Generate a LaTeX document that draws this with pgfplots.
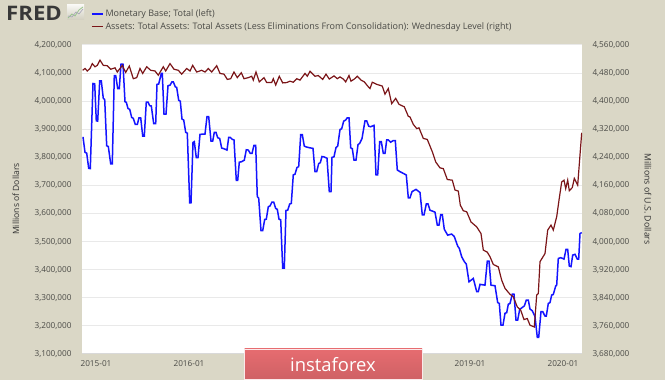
\documentclass[border=0pt]{standalone}
\usepackage{fontspec}
\setmainfont{Open Sans}
\usepackage{pgfplots}
\pgfplotsset{compat=1.18}
\usepackage{pgfplotstable}
\definecolor{bgc}{HTML}{DAD7C6}
\definecolor{blueline}{HTML}{1414FF}
\definecolor{redline}{HTML}{7B1518}
\definecolor{tickc}{HTML}{4A4A46}
\definecolor{gridc}{HTML}{E9E9E9}
\definecolor{bannerc}{HTML}{E66C70}
\pgfplotstableread{
x y
83 3873000
85 3818000
86.7 3815000
88.7 3761000
90.3 3760000
93 4063000
94.7 4062000
96.3 3930000
97.7 3929000
99.7 4072000
101.3 4072000
103.3 4010000
104.7 4006000
106.7 3841000
108.3 3839000
110.7 3777000
112.3 3777000
114.3 4091000
115.7 4091000
117.7 4045000
119.3 4045000
121 4132000
123 4132000
125 3998000
126.3 3996000
128 3974000
129.7 3971000
131.7 3942000
133.3 3939000
135.3 3917000
137.3 3917000
139 3941000
140.7 3941000
142.7 3876000
144.3 3876000
146.3 3997000
148 3997000
149.7 3984000
151.3 3983000
153.7 3920000
155.7 3920000
157 4060000
158.7 4061000
161.3 4099000
162.3 4099000
164 3954000
166 3954000
168 4055000
170 4057000
172 4069000
173.3 4069000
175.3 4051000
176.7 4049000
178.7 4003000
180.3 4000000
182 3936000
183.7 3933000
185.7 3889000
187.3 3886000
189.7 3638000
191 3638000
193 3853000
194.3 3856000
196.3 3799000
198 3799000
200 3882000
205 3883000
207 3945000
208.7 3945000
211 3858000
212.7 3858000
214.3 3889000
216 3889000
217.7 3870000
219.7 3867000
221.7 3833000
223.7 3831000
227 3826000
228.7 3871000
230.3 3871000
232.3 3864000
234 3862000
236.3 3718000
237.7 3718000
239.3 3783000
241.3 3784000
244.3 3790000
246.3 3827000
248.3 3826000
250.3 3814000
252 3814000
254 3843000
255.7 3843000
257.3 3660000
258.7 3655000
261 3539000
262.7 3539000
264.7 3579000
266.3 3580000
268.3 3624000
270 3627000
272 3641000
273.7 3641000
275.7 3618000
277.3 3615000
279 3580000
280.7 3578000
282.7 3406000
284.3 3406000
286 3611000
287.7 3612000
289.7 3634000
291.3 3636000
293.3 3738000
295 3740000
297 3764000
298.7 3767000
300.7 3881000
302.3 3881000
304.3 3840000
306.3 3837000
309.7 3834000
313 3832000
315 3749000
316.7 3749000
318.7 3778000
320.3 3781000
322 3803000
323.7 3802000
327 3797000
329.3 3678000
331 3678000
332 3800000
334 3802000
336 3835000
337.7 3840000
340 3899000
341.7 3902000
343.7 3929000
345.7 3933000
347.3 3941000
349 3941000
350.7 3834000
352.3 3831000
354 3790000
356 3790000
358 3845000
359.7 3850000
362 3867000
365 3930000
366.7 3930000
368.7 3911000
370.7 3909000
374 3914000
376 3738000
377.7 3738000
379.7 3856000
381.3 3856000
383.3 3814000
385 3814000
386.7 3862000
388.3 3862000
390.7 3854000
393.3 3860000
395.3 3860000
397.3 3755000
400 3749000
403.3 3743000
406.3 3737000
408.3 3656000
410 3656000
412 3678000
416 3686000
420 3675000
422.3 3595000
424 3595000
426.3 3634000
428 3634000
430 3612000
435 3605000
437.3 3559000
439 3559000
440.7 3596000
442.3 3596000
444.3 3544000
447.7 3523000
451.7 3527000
454.3 3518000
457.7 3484000
459.3 3476000
461.7 3446000
464.3 3429000
466.3 3420000
469 3357000
473.3 3369000
476.7 3322000
478.3 3322000
480 3348000
485 3345000
487.3 3431000
489 3431000
491 3345000
495 3343000
497.7 3283000
499.3 3280000
501 3203000
503 3203000
505 3245000
506.7 3247000
508.3 3277000
510 3280000
512.3 3313000
514 3313000
516 3221000
517.7 3221000
519.7 3259000
524.3 3271000
526.3 3292000
528.3 3292000
530 3260000
532.3 3254000
535 3233000
537.3 3159000
538.7 3159000
541 3251000
542.7 3251000
545 3235000
546.3 3235000
548.3 3280000
550 3283000
551.7 3310000
553.3 3312000
555.7 3342000
556.7 3345000
558.3 3440000
560.7 3443000
564 3438000
566 3472000
567.7 3472000
569.3 3413000
571 3411000
572.7 3452000
575 3455000
577.3 3438000
578.7 3438000
580 3529000
581.7 3532000
}\monbase
\pgfplotstableread{
x y
82.7 4488000
85 4493000
87.3 4486000
90 4493000
92.3 4507000
95 4498000
97.3 4502000
100 4517000
103.3 4502000
107.3 4501000
110.7 4491000
115 4495000
117.3 4483000
120 4493000
122.3 4502000
125.7 4482000
129.3 4500000
133.3 4464000
136.7 4467000
140 4493000
142.7 4479000
146.7 4498000
150.7 4488000
155 4486000
158.3 4474000
163.3 4498000
165.7 4486000
170 4507000
174 4491000
178.3 4488000
181.7 4477000
186.7 4493000
190 4486000
192.7 4502000
196.7 4483000
201.7 4488000
205 4483000
208.3 4493000
211.7 4483000
216.7 4501000
220 4479000
224 4477000
227.3 4462000
230.7 4464000
234 4483000
237.3 4467000
241.3 4481000
244 4464000
248.3 4467000
251.7 4471000
253.3 4460000
256 4483000
259.3 4455000
264 4467000
266.7 4453000
271.7 4453000
273.3 4464000
275.7 4446000
279.3 4471000
282.7 4452000
286.7 4453000
290 4457000
293.3 4454000
296.7 4464000
300 4460000
305 4479000
307.3 4471000
310 4485000
315 4471000
318.3 4473000
322.7 4462000
326 4477000
329.3 4463000
334 4472000
337.3 4464000
340 4469000
343.3 4463000
345.7 4455000
349 4473000
351 4457000
354.3 4463000
357.3 4471000
361 4460000
364.3 4455000
367.7 4443000
370 4436000
372.3 4454000
376.7 4448000
382.3 4443000
385 4420000
388.3 4436000
391.7 4393000
395.7 4408000
399 4391000
404.3 4384000
408.3 4357000
410 4355000
413.3 4334000
416.7 4322000
419 4324000
423.3 4294000
427.3 4291000
432.3 4256000
435.7 4227000
440 4210000
443.3 4208000
447.3 4177000
452.3 4175000
455 4147000
458.3 4144000
460.3 4104000
463.3 4088000
466.7 4085000
471 4056000
476.7 4042000
481 4023000
483.3 3976000
487.3 3970000
490 3957000
493.3 3935000
498.3 3928000
501.7 3890000
505 3867000
510 3850000
513.3 3843000
517.3 3814000
520.7 3805000
524 3778000
527.3 3781000
530 3762000
534.3 3757000
536.7 3848000
538.3 3852000
540 3943000
545 3966000
547.7 4033000
551 4047000
553.3 4033000
556.7 4071000
559 4118000
561.7 4170000
564 4175000
565.7 4151000
567.7 4175000
569.3 4145000
572.3 4154000
574.3 4180000
577.7 4161000
581.7 4310000
}\assets
\begin{document}
\begin{tikzpicture}[x=1pt,y=1pt]
\path[use as bounding box,fill=bgc] (0,0) rectangle (665,380);
\begin{axis}[
  at={(82pt,26pt)},anchor=south west,scale only axis,
  width=500pt,height=309pt,
  xmin=82,xmax=582,
  ymin=3100000,ymax=4200000,
  axis background/.style={fill=white},
  axis line style={draw=none},
  tick style={draw=none},
  xtick={96,189,470,563},
  xticklabels={2015-01,2016-01,2019-01,2020-01},
  ytick={3100000,3200000,3300000,3400000,3500000,3600000,3700000,3800000,3900000,4000000,4100000,4200000},
  scaled y ticks=false,
  /pgf/number format/.cd,fixed,1000 sep={,},assume math mode=true,
  /pgfplots/.cd,
  ymajorgrids,
  major grid style={gridc,line width=1pt},
  tick label style={font=\fontsize{8.2}{10}\selectfont,text=tickc},
  yticklabel style={xshift=-7pt},
  xticklabel style={yshift=-3pt},
]
\addplot[blueline,line width=1.5pt,line join=miter,no marks] table[x=x,y=y] {\monbase};
\end{axis}
\begin{axis}[
  at={(82pt,26pt)},anchor=south west,scale only axis,
  width=500pt,height=309pt,
  xmin=82,xmax=582,
  ymin=3680000,ymax=4560000,
  axis line style={draw=none},
  tick style={draw=none},
  hide x axis,
  axis y line*=right,
  ytick={3680000,3760000,3840000,3920000,4000000,4080000,4160000,4240000,4320000,4400000,4480000,4560000},
  scaled y ticks=false,
  /pgf/number format/.cd,fixed,1000 sep={,},assume math mode=true,
  /pgfplots/.cd,
  tick label style={font=\fontsize{8.2}{10}\selectfont,text=tickc},
  yticklabel style={xshift=7pt},
  legend style={at={(0.018,1.121)},anchor=north west,draw=none,fill=none,
    font=\fontsize{9}{10.5}\selectfont,text=tickc,cells={anchor=west},
    row sep=0.6pt,inner sep=0pt,outer sep=0pt},
  legend image code/.code={\draw[#1] (0pt,0pt) -- (11pt,0pt);},
]
\addlegendimage{blueline,line width=1.5pt}
\addlegendentry{Monetary Base; Total (left)}
\addplot[redline,line width=1.2pt,line join=miter,no marks] table[x=x,y=y] {\assets};
\addlegendentry{Assets: Total Assets: Total Assets (Less Eliminations From Consolidation): Wednesday Level (right)}
\end{axis}
\draw[line width=1pt,color=gridc!85!gray] (82,26) -- (582,26);
\node[rotate=90,font=\fontsize{8.6}{10}\selectfont,text=black!80] at (16,181) {Millions of Dollars};
\node[rotate=-90,font=\fontsize{8.8}{10}\selectfont,text=black!80] at (648,181) {Millions of U.S. Dollars};
% FRED logo
\node[anchor=west,inner sep=0pt,xscale=1.11,font=\fontsize{20}{20}\selectfont\bfseries,text=black!78] at (6,366.5) {FRED};
\shade[top color=white!80!bgc,bottom color=bgc!90!gray] (67,360) rectangle (84,375);
\draw[color=green!25!bgc!70!gray,line width=0.8pt] (68,362) -- (72,366) -- (75,364) -- (79,370) -- (83,373);
\draw[color=blue!15!bgc!70!gray,line width=0.7pt] (68,364) -- (72,363) -- (76,368) -- (79,366) -- (83,371);
% banner
\shade[top color=bannerc,bottom color=bannerc!90!black,draw=white!85!bannerc,line width=0.6pt] (244.5,1) rectangle (422,31);
\node[font=\fontsize{18.4}{20}\selectfont,text=white] at (333,15.5) {instaforex};
\end{tikzpicture}
\end{document}
